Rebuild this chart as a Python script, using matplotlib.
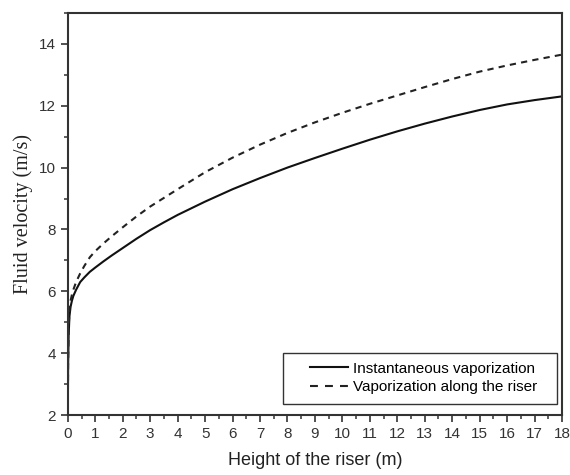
import matplotlib
matplotlib.use("Agg")
import matplotlib.pyplot as plt
from matplotlib.lines import Line2D
from matplotlib.patches import Rectangle
from matplotlib.ticker import MultipleLocator

# riser height (m) and fluid velocity (m/s) for the two vaporization models
height = [0, 0.01, 0.03, 0.06, 0.1, 0.15, 0.2, 0.3, 0.45, 0.6, 0.8, 1.0, 1.3, 1.6,
          2, 2.5, 3, 3.5, 4, 5, 6, 7, 8, 9, 10, 11, 12, 13, 14, 15, 16, 17, 18]
v_instant = [2.0, 3.6, 4.6, 5.2, 5.5, 5.7, 5.85, 6.05, 6.3, 6.45, 6.63, 6.77, 6.97, 7.16,
             7.4, 7.7, 7.98, 8.23, 8.47, 8.9, 9.3, 9.66, 10.0, 10.31, 10.61, 10.9, 11.17,
             11.42, 11.65, 11.86, 12.04, 12.18, 12.3]
v_along = [2.0, 3.7, 4.8, 5.4, 5.7, 5.9, 6.05, 6.3, 6.58, 6.82, 7.1, 7.3, 7.55, 7.78,
           8.07, 8.42, 8.74, 9.02, 9.3, 9.85, 10.32, 10.74, 11.12, 11.46, 11.77, 12.06,
           12.33, 12.6, 12.86, 13.1, 13.3, 13.48, 13.65]

labels = ['Instantaneous vaporization', 'Vaporization along the riser']
x_ticks = list(range(0, 19))
y_ticks = [2, 4, 6, 8, 10, 12, 14]

plt.rcParams['font.family'] = ['Liberation Sans', 'DejaVu Sans']

fig = plt.figure(figsize=(5.7, 4.75), dpi=100)
ax = fig.add_axes([0.119, 0.126, 0.867, 0.847])

ax.plot(height, v_instant, color='#111111', lw=1.5)
ax.plot(height, v_along, color='#222222', lw=1.5, dashes=(3, 2.5))

ax.set_xlim(0, 18)
ax.set_ylim(2, 15)
ax.set_xticks(x_ticks)
ax.set_yticks(y_ticks)
ax.xaxis.set_minor_locator(MultipleLocator(0.5))
ax.yaxis.set_minor_locator(MultipleLocator(1))
ax.tick_params(which='major', direction='out', length=5, width=1.2, labelsize=11,
               colors='#333333', labelcolor='#333333')
ax.tick_params(which='minor', direction='out', length=3, width=1.1, colors='#333333')
for s in ax.spines.values():
    s.set_linewidth(1.5)
    s.set_color('#333333')

ax.set_xlabel('Height of the riser (m)', fontsize=13, color='#222222', labelpad=8)
ax.set_ylabel('Fluid velocity (m/s)', fontsize=14.5, color='#222222',
              family=['Liberation Serif', 'DejaVu Serif'], labelpad=4)

# legend box drawn separately so it can be wider than the entries
ax.add_patch(Rectangle((0.435, 0.028), 0.555, 0.127, transform=ax.transAxes,
                       fill=True, facecolor='white', edgecolor='#333333', lw=1.0,
                       zorder=4))
handles = [Line2D([], [], color='#111111', lw=1.5),
           Line2D([], [], color='#222222', lw=1.5, dashes=(3.8, 3.4))]
leg = ax.legend(handles, labels, loc='center', fontsize=11, frameon=False,
                handlelength=2.5, handletextpad=0.35, borderpad=0, labelspacing=0.3,
                bbox_to_anchor=(0.72, 0.092))
leg.set_zorder(5)

fig.savefig('out.png', dpi=100)
